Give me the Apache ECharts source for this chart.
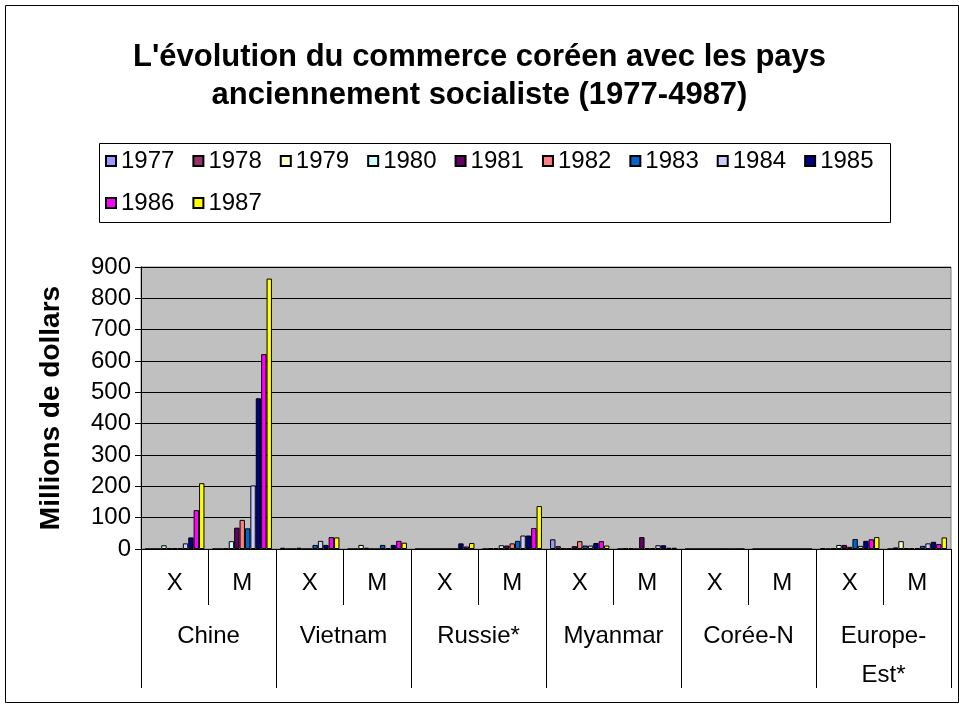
<!DOCTYPE html>
<html>
<head>
<meta charset="utf-8">
<script src="https://cdn.jsdelivr.net/npm/echarts@6/dist/echarts.min.js"></script>
<style>
  html, body { margin: 0; padding: 0; background: #ffffff; }
  #chart { width: 959px; height: 709px; }
</style>
</head>
<body>
<div id="chart"></div>
<script>
// Flow (X = exportations, M = importations) per partner
const flows = ['X', 'M', 'X', 'M', 'X', 'M', 'X', 'M', 'X', 'M', 'X', 'M'];
const partners = ['Chine', 'Vietnam', 'Russie*', 'Myanmar', 'Corée-N', 'Europe-\nEst*'];
const years = ['1977', '1978', '1979', '1980', '1981', '1982', '1983', '1984', '1985', '1986', '1987'];
const yTicks = [0, 100, 200, 300, 400, 500, 600, 700, 800, 900];

// Millions de dollars, one value per flow column above
const v1977 = [0, 0, 4, 0, 0, 0, 31, 0, 0, 0, 3, 0];
const v1978 = [0, 0, 0, 0, 0, 2, 9, 3, 0, 0, 0, 5];
const v1979 = [0, 2, 0, 13, 0, 3, 2, 3, 0, 0, 3, 25];
const v1980 = [12, 25, 4, 4, 0, 12, 2, 0, 0, 0, 13, 3];
const v1981 = [2, 68, 0, 0, 0, 11, 9, 38, 0, 0, 13, 3];
const v1982 = [2, 93, 0, 0, 0, 18, 25, 3, 0, 0, 7, 3];
const v1983 = [2, 66, 13, 13, 0, 26, 11, 3, 0, 0, 32, 10];
const v1984 = [18, 203, 26, 3, 0, 43, 11, 12, 0, 0, 10, 18];
const v1985 = [37, 481, 13, 13, 18, 43, 19, 12, 0, 0, 26, 23];
const v1986 = [124, 622, 38, 26, 8, 67, 25, 4, 0, 0, 31, 16];
const v1987 = [210, 863, 37, 20, 19, 137, 11, 4, 0, 0, 38, 37];

const yearValues = [v1977, v1978, v1979, v1980, v1981, v1982, v1983, v1984, v1985, v1986, v1987];
const palette = ['#9999FF', '#993366', '#FFFFCC', '#CCFFFF', '#660066', '#FF8080',
                 '#0066CC', '#CCCCFF', '#000080', '#FF00FF', '#FFFF00'];

const FONT = '"Liberation Sans", Arial, Helvetica, sans-serif';

const chart = echarts.init(document.getElementById('chart'), null, { renderer: 'canvas' });

const series = years.map((y, i) => ({
  name: y,
  type: 'bar',
  xAxisIndex: 0,
  yAxisIndex: 0,
  data: yearValues[i],
  barGap: '0%',
  barCategoryGap: '12%',
  itemStyle: { color: palette[i], borderColor: '#000000', borderWidth: 1 },
  emphasis: { disabled: true },
  animation: false
}));

chart.setOption({
  backgroundColor: '#ffffff',
  animation: false,
  textStyle: { fontFamily: FONT, color: '#000000' },
  title: {
    text: "L'évolution du commerce coréen avec les pays\nanciennement socialiste (1977-4987)",
    left: 'center',
    top: 38,
    padding: 0,
    textStyle: { fontFamily: FONT, fontSize: 31, fontWeight: 'bold', color: '#000000', lineHeight: 38 }
  },
  legend: {
    data: years,
    left: 105,
    top: 149,
    width: 790,
    padding: 0,
    itemWidth: 10,
    itemHeight: 10,
    itemGap: 18,
    icon: 'rect',
    selectedMode: false,
    textStyle: { fontFamily: FONT, fontSize: 24, color: '#000000', lineHeight: 20 }
  },
  graphic: [
    {
      type: 'rect',
      shape: { x: 5.5, y: 5.5, width: 953, height: 697 },
      style: { fill: 'none', stroke: '#000000', lineWidth: 1 },
      silent: true
    },
    {
      type: 'rect',
      shape: { x: 99.5, y: 143.5, width: 791, height: 79 },
      style: { fill: 'none', stroke: '#000000', lineWidth: 1 },
      silent: true
    }
  ],
  grid: {
    left: 141,
    top: 267,
    width: 810,
    height: 282,
    show: true,
    backgroundColor: '#C0C0C0',
    borderColor: '#808080',
    borderWidth: 1
  },
  xAxis: [
    {
      type: 'category',
      data: flows,
      position: 'bottom',
      axisLine: { show: true, lineStyle: { color: '#000000', width: 1 } },
      axisTick: { show: true, interval: 0, length: 56, lineStyle: { color: '#000000' } },
      axisLabel: { interval: 0, margin: 22, fontSize: 24, color: '#000000', fontFamily: FONT },
      splitLine: { show: false }
    },
    {
      type: 'category',
      data: partners,
      position: 'bottom',
      gridIndex: 0,
      axisLine: { show: false },
      axisTick: { show: true, interval: 0, length: 139, lineStyle: { color: '#000000' } },
      axisLabel: { interval: 0, margin: 68, fontSize: 24, lineHeight: 39, color: '#000000', fontFamily: FONT },
      splitLine: { show: false }
    }
  ],
  yAxis: {
    type: 'value',
    min: yTicks[0],
    max: yTicks[yTicks.length - 1],
    interval: 100,
    name: 'Millions de dollars',
    nameLocation: 'middle',
    nameRotate: 90,
    nameGap: 76,
    nameTextStyle: { fontFamily: FONT, fontSize: 28, fontWeight: 'bold', color: '#000000' },
    axisLine: { show: true, lineStyle: { color: '#000000', width: 1 } },
    axisTick: { show: true, length: 6, lineStyle: { color: '#000000' } },
    axisLabel: { margin: 10, fontSize: 24, color: '#000000', fontFamily: FONT },
    splitLine: { show: true, lineStyle: { color: '#000000', width: 1 } }
  },
  series: series
});
</script>
</body>
</html>
